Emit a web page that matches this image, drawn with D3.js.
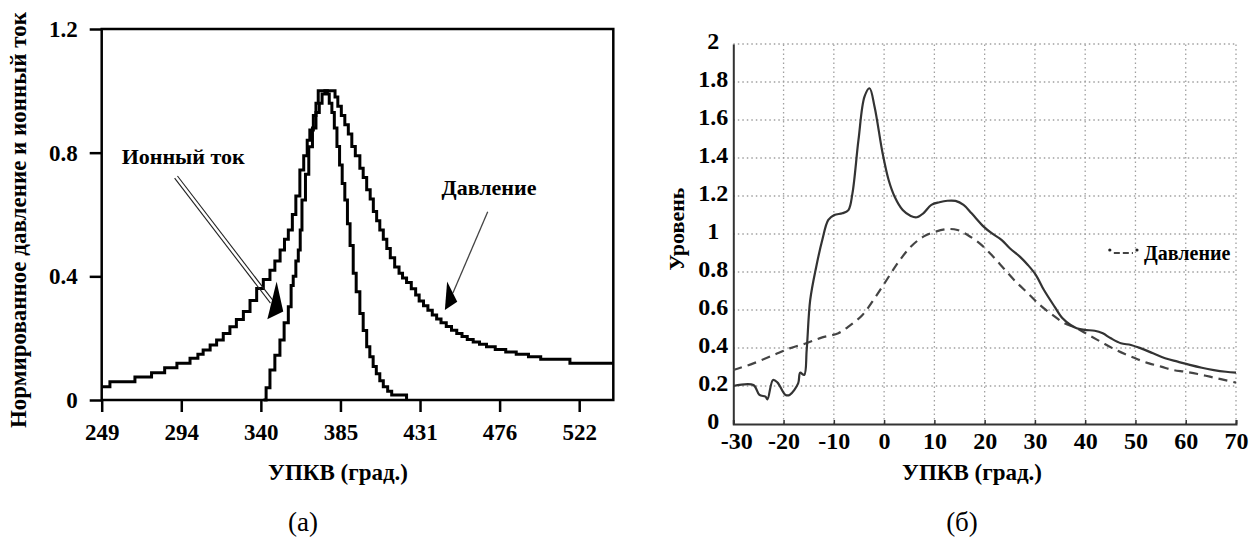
<!DOCTYPE html>
<html>
<head>
<meta charset="utf-8">
<script src="https://cdn.jsdelivr.net/npm/d3@7"></script>
<style>
	body { margin: 0; background: #fff; }
	svg text { font-family: 'Liberation Serif', 'DejaVu Serif', serif; }
	.bold { font-weight: bold; }
</style>
</head>
<body>
<script>
// Панель (а): давление и ионный ток, ступенчатые кривые
const aTicksX = [249, 294.5, 340, 385.5, 431, 476.5, 522]
const aTickLabels = ['249', '294', '340', '385', '431', '476', '522']
const aTicksY = [0, 0.4, 0.8, 1.2]

const pressX = [249, 253.7, 268, 277.5, 285, 292, 299.5, 304, 307, 311, 314.7, 318.5, 322.3, 326, 330, 333.8, 337.6,
	341.4, 345.2, 348, 351, 353.5, 355.7, 358, 360, 362.3, 364.5, 366.5, 368, 370, 371.5, 372.8, 382.4, 384, 386, 388,
	390, 392, 394, 396.6, 398.5, 400.5, 402.5, 404.3, 406.2, 408, 410, 412, 414, 416.5, 419, 421, 423.3, 426, 428.5,
	430.5, 433, 435.5, 438, 440.5, 443, 446, 449, 452, 455, 458, 461.4, 465, 469, 474, 480, 486, 493, 500, 516.7, 541.5]
const pressY = [0.043, 0.059, 0.074, 0.088, 0.104, 0.119, 0.135, 0.148, 0.162, 0.178, 0.194, 0.215, 0.237, 0.26, 0.286,
	0.322, 0.361, 0.39, 0.42, 0.45, 0.485, 0.52, 0.55, 0.6, 0.66, 0.744, 0.79, 0.84, 0.873, 0.92, 0.96, 1.0, 0.98, 0.95,
	0.92, 0.89, 0.86, 0.82, 0.79, 0.75, 0.72, 0.68, 0.65, 0.61, 0.58, 0.55, 0.52, 0.49, 0.46, 0.43, 0.41, 0.395, 0.38,
	0.36, 0.34, 0.32, 0.305, 0.29, 0.275, 0.262, 0.25, 0.238, 0.226, 0.215, 0.205, 0.196, 0.188, 0.18, 0.172, 0.163,
	0.155, 0.148, 0.14, 0.132, 0.119, 0.119]

const ionX = [341.5, 343, 345.2, 348, 350.9, 353.3, 355.7, 357.3, 358.5, 360, 361.4, 362.5, 363.5, 365.5, 367.4, 369.5,
	371.5, 373.4, 375, 376.6, 378, 379.1, 380.6, 382, 383.5, 385, 386.5, 388, 389.5, 391, 392.8, 394.5, 396.6, 398.5,
	400.5, 402.3, 404.2, 406, 408, 410, 412.5, 414.8, 423.3]
const ionY = [0, 0.04, 0.097, 0.145, 0.194, 0.25, 0.302, 0.37, 0.4, 0.45, 0.485, 0.55, 0.647, 0.73, 0.819, 0.88, 0.93,
	0.96, 0.99, 1.0, 0.99, 0.96, 0.93, 0.88, 0.82, 0.76, 0.7, 0.647, 0.57, 0.5, 0.41, 0.35, 0.28, 0.225, 0.172, 0.14,
	0.108, 0.085, 0.062, 0.043, 0.028, 0.016, 0]

// подписи-стрелки (в единицах данных)
const ionArrow = [[291.5, 0.721], [346.3, 0.317]]
const ionHead = [[343.7, 0.261], [349.0, 0.383], [352.8, 0.286]]
const ionLabel = [260.4, 0.763]
const pressArrow = [[469.7, 0.609], [449.8, 0.346]]
const pressHead = [[445.2, 0.291], [446.5, 0.383], [452.3, 0.318]]
const pressLabel = [443.3, 0.663]

// Панель (б): уровень и давление
const bTicksX = [-30, -20, -10, 0, 10, 20, 30, 40, 50, 60, 70]
const bTicksY = [0, 0.2, 0.4, 0.6, 0.8, 1, 1.2, 1.4, 1.6, 1.8, 2]

const levelX = [-30, -26, -24.8, -23.6, -23.2, -22.1, -21.2, -19.6, -18.8, -17.1, -16.7, -15.9, -15.4, -14.7, -13.5,
	-12.3, -11.1, -9.9, -8.3, -7.1, -6.3, -5.1, -3.9, -2.9, -1.9, -0.3, 0.9, 2.1, 3.7, 5.3, 6.5, 7.8, 9.4, 11, 12.6,
	14.2, 15.8, 17.4, 19.8, 21.4, 23.4, 25, 27, 28.6, 30.2, 31.8, 33.9, 35.5, 37.1, 38.3, 39.9, 41.9, 43.5, 45.1, 47.1,
	49.1, 51.1, 53.5, 55.9, 58.4, 60.8, 63.2, 65.6, 68, 70]
const levelY = [0.2, 0.205, 0.153, 0.144, 0.13, 0.232, 0.218, 0.153, 0.153, 0.214, 0.27, 0.258, 0.39, 0.653, 0.828,
	0.968, 1.074, 1.1, 1.109, 1.126, 1.214, 1.495, 1.723, 1.767, 1.67, 1.425, 1.284, 1.196, 1.126, 1.095, 1.088, 1.109,
	1.153, 1.167, 1.175, 1.174, 1.153, 1.109, 1.039, 1.004, 0.968, 0.925, 0.881, 0.837, 0.784, 0.705, 0.618, 0.556,
	0.521, 0.504, 0.495, 0.491, 0.477, 0.451, 0.425, 0.416, 0.398, 0.372, 0.346, 0.328, 0.311, 0.296, 0.284, 0.275, 0.27]

const bPressX = [-30, -26, -22, -18.8, -15.5, -12.3, -9.1, -6.7, -4.3, -1.9, 0.5, 2.9, 5.3, 7.8, 10.2, 12.6, 14.6, 16.6,
	19, 21.4, 23.8, 26.2, 28.6, 31, 33.5, 35.9, 38.3, 40.7, 43.1, 45.5, 47.9, 50.3, 52.7, 55.1, 57.5, 59.9, 62.4, 64.8,
	67.2, 70]
const bPressY = [0.284, 0.319, 0.363, 0.398, 0.425, 0.456, 0.478, 0.521, 0.574, 0.661, 0.758, 0.854, 0.933, 0.986,
	1.012, 1.026, 1.021, 0.995, 0.951, 0.889, 0.819, 0.749, 0.688, 0.626, 0.574, 0.53, 0.504, 0.468, 0.433, 0.398, 0.368,
	0.342, 0.319, 0.302, 0.284, 0.275, 0.263, 0.249, 0.235, 0.218]

const legendLine = [[44.9, 0.9], [50.3, 0.9]]
const legendText = [51.7, 0.863]

const FONT = "'Liberation Serif', 'DejaVu Serif', serif"
const width = 1254
const height = 548

const svg = d3.select('body').append('svg').attr('width', width).attr('height', height)

// ---------- (а) ----------
const xA = d3.scaleLinear().domain([249, 541.5]).range([101.7, 613.3])
const yA = d3.scaleLinear().domain([0, 1.2]).range([400, 29])

const gA = svg.append('g')

const xAxisA = d3.axisBottom(xA).tickValues(aTicksX).tickFormat((d, i) => aTickLabels[i]).tickSize(12).tickPadding(12)
const gxA = gA.append('g').attr('transform', `translate(0,${yA(0)})`).call(xAxisA)
const yAxisA = d3.axisLeft(yA).tickValues(aTicksY).tickFormat(d => (d === 0 ? '0' : d3.format('.1f')(d))).tickSize(12).tickPadding(12)
const gyA = gA.append('g').attr('transform', `translate(${xA(249)},0)`).call(yAxisA)

;[gxA, gyA].forEach(g => {
	g.attr('font-family', FONT)
	g.select('.domain').remove()
	g.selectAll('line').attr('stroke', '#000').attr('stroke-width', 2.5)
	g.selectAll('text').attr('class', 'bold').attr('font-size', 23).attr('fill', '#000')
})

gA.append('rect')
	.attr('x', xA(249))
	.attr('y', yA(1.2))
	.attr('width', xA(541.5) - xA(249))
	.attr('height', yA(0) - yA(1.2))
	.attr('fill', 'none')
	.attr('stroke', '#000')
	.attr('stroke-width', 2.5)

const stepLine = d3.line().x(d => xA(d[0])).y(d => yA(d[1])).curve(d3.curveStepAfter)

gA.append('path')
	.datum(d3.zip(pressX, pressY))
	.attr('d', stepLine)
	.attr('fill', 'none')
	.attr('stroke', '#000')
	.attr('stroke-width', 3)
gA.append('path')
	.datum(d3.zip(ionX, ionY))
	.attr('d', stepLine)
	.attr('fill', 'none')
	.attr('stroke', '#000')
	.attr('stroke-width', 3)

// двойная стрелка к ионному току
const p0 = ionArrow.map(d => [xA(d[0]), yA(d[1])])
const dx = p0[1][0] - p0[0][0]
const dy = p0[1][1] - p0[0][1]
const len = Math.hypot(dx, dy)
;[-1.8, 1.8].forEach(o => {
	gA.append('line')
		.attr('x1', p0[0][0] + (o * dy) / len)
		.attr('y1', p0[0][1] - (o * dx) / len)
		.attr('x2', p0[1][0] + (o * dy) / len)
		.attr('y2', p0[1][1] - (o * dx) / len)
		.attr('stroke', '#222')
		.attr('stroke-width', 1.1)
})
gA.append('polygon')
	.attr('points', ionHead.map(d => [xA(d[0]), yA(d[1])].join(',')).join(' '))
	.attr('fill', '#000')
gA.append('text')
	.attr('class', 'bold')
	.attr('font-family', FONT)
	.attr('x', xA(ionLabel[0]))
	.attr('y', yA(ionLabel[1]))
	.attr('font-size', 22)
	.text('Ионный ток')

gA.append('line')
	.attr('x1', xA(pressArrow[0][0]))
	.attr('y1', yA(pressArrow[0][1]))
	.attr('x2', xA(pressArrow[1][0]))
	.attr('y2', yA(pressArrow[1][1]))
	.attr('stroke', '#444')
	.attr('stroke-width', 1.3)
gA.append('polygon')
	.attr('points', pressHead.map(d => [xA(d[0]), yA(d[1])].join(',')).join(' '))
	.attr('fill', '#000')
gA.append('text')
	.attr('class', 'bold')
	.attr('font-family', FONT)
	.attr('x', xA(pressLabel[0]))
	.attr('y', yA(pressLabel[1]))
	.attr('font-size', 22)
	.text('Давление')

gA.append('text')
	.attr('class', 'bold')
	.attr('font-family', FONT)
	.attr('transform', 'translate(26,220) rotate(-90)')
	.attr('text-anchor', 'middle')
	.attr('font-size', 23)
	.text('Нормированное давление и ионный ток')
gA.append('text')
	.attr('class', 'bold')
	.attr('font-family', FONT)
	.attr('x', 268)
	.attr('y', 480)
	.attr('font-size', 23)
	.text('УПКВ (град.)')
gA.append('text')
	.attr('font-family', FONT)
	.attr('x', 303)
	.attr('y', 531)
	.attr('text-anchor', 'middle')
	.attr('font-size', 27)
	.text('(а)')

// ---------- (б) ----------
const xB = d3.scaleLinear().domain([-30, 70]).range([733.3, 1236])
const yB = d3.scaleLinear().domain([0, 2]).range([424, 44])

const gB = svg.append('g')

// пунктирная сетка
gB.append('g')
	.selectAll('line')
	.data(bTicksX.slice(1))
	.join('line')
	.attr('x1', d => xB(d))
	.attr('x2', d => xB(d))
	.attr('y1', yB(0))
	.attr('y2', yB(2))
	.attr('stroke', '#a0a0a0')
	.attr('stroke-width', 1.3)
	.attr('stroke-dasharray', '1.5,3')
gB.append('g')
	.selectAll('line')
	.data(bTicksY.slice(1))
	.join('line')
	.attr('x1', xB(-30))
	.attr('x2', xB(70))
	.attr('y1', d => yB(d))
	.attr('y2', d => yB(d))
	.attr('stroke', '#a0a0a0')
	.attr('stroke-width', 1.3)
	.attr('stroke-dasharray', '1.5,3')

const xAxisB = d3.axisBottom(xB).tickValues(bTicksX).tickFormat(d3.format('d')).tickSize(-4).tickPadding(8)
const gxB = gB.append('g').attr('transform', `translate(0,${yB(0)})`).call(xAxisB)
const yAxisB = d3.axisLeft(yB).tickValues(bTicksY).tickFormat(d => (Number.isInteger(d) ? d : d.toFixed(1))).tickSize(0).tickPadding(20)
const gyB = gB.append('g').attr('transform', `translate(${xB(-30)},0)`).call(yAxisB)

;[gxB, gyB].forEach(g => {
	g.attr('font-family', FONT)
	g.select('.domain').attr('stroke', '#333').attr('stroke-width', 2)
	g.selectAll('line').attr('stroke', '#333').attr('stroke-width', 1.5)
	g.selectAll('text').attr('class', 'bold').attr('font-size', 24).attr('fill', '#000')
})
gxB.selectAll('text').text(d => (d < 0 ? '-' + Math.abs(d) : d)).attr('dx', d => (d === -30 ? 3 : 0))
// подписи оси Y в референсе центрированы
gyB.selectAll('text').attr('text-anchor', 'middle').attr('dy', '0.2em')

const smooth = d3.line().x(d => xB(d[0])).y(d => yB(d[1])).curve(d3.curveCatmullRom)

gB.append('path')
	.datum(d3.zip(bPressX, bPressY))
	.attr('d', smooth)
	.attr('fill', 'none')
	.attr('stroke', '#444')
	.attr('stroke-width', 2.2)
	.attr('stroke-dasharray', '9,6')
gB.append('path')
	.datum(d3.zip(levelX, levelY))
	.attr('d', smooth)
	.attr('fill', 'none')
	.attr('stroke', '#333')
	.attr('stroke-width', 2.2)

// легенда
gB.append('line')
	.attr('x1', xB(legendLine[0][0]) + 4)
	.attr('x2', xB(legendLine[1][0]) - 4)
	.attr('y1', yB(legendLine[0][1]))
	.attr('y2', yB(legendLine[1][1]))
	.attr('stroke', '#444')
	.attr('stroke-width', 2)
	.attr('stroke-dasharray', '6,3')
gB.selectAll('.ldot')
	.data(legendLine)
	.join('circle')
	.attr('class', 'ldot')
	.attr('cx', d => xB(d[0]))
	.attr('cy', d => yB(d[1]) - 3)
	.attr('r', 1.6)
	.attr('fill', '#222')
gB.append('text')
	.attr('class', 'bold')
	.attr('font-family', FONT)
	.attr('x', xB(legendText[0]))
	.attr('y', yB(legendText[1]))
	.attr('font-size', 20)
	.text('Давление')

gB.append('text')
	.attr('class', 'bold')
	.attr('font-family', FONT)
	.attr('transform', 'translate(684,229) rotate(-90)')
	.attr('text-anchor', 'middle')
	.attr('font-size', 22)
	.text('Уровень')
gB.append('text')
	.attr('class', 'bold')
	.attr('font-family', FONT)
	.attr('x', 902)
	.attr('y', 480)
	.attr('font-size', 23)
	.text('УПКВ (град.)')
gB.append('text')
	.attr('font-family', FONT)
	.attr('x', 962)
	.attr('y', 531)
	.attr('text-anchor', 'middle')
	.attr('font-size', 27)
	.text('(б)')
</script>
</body>
</html>
